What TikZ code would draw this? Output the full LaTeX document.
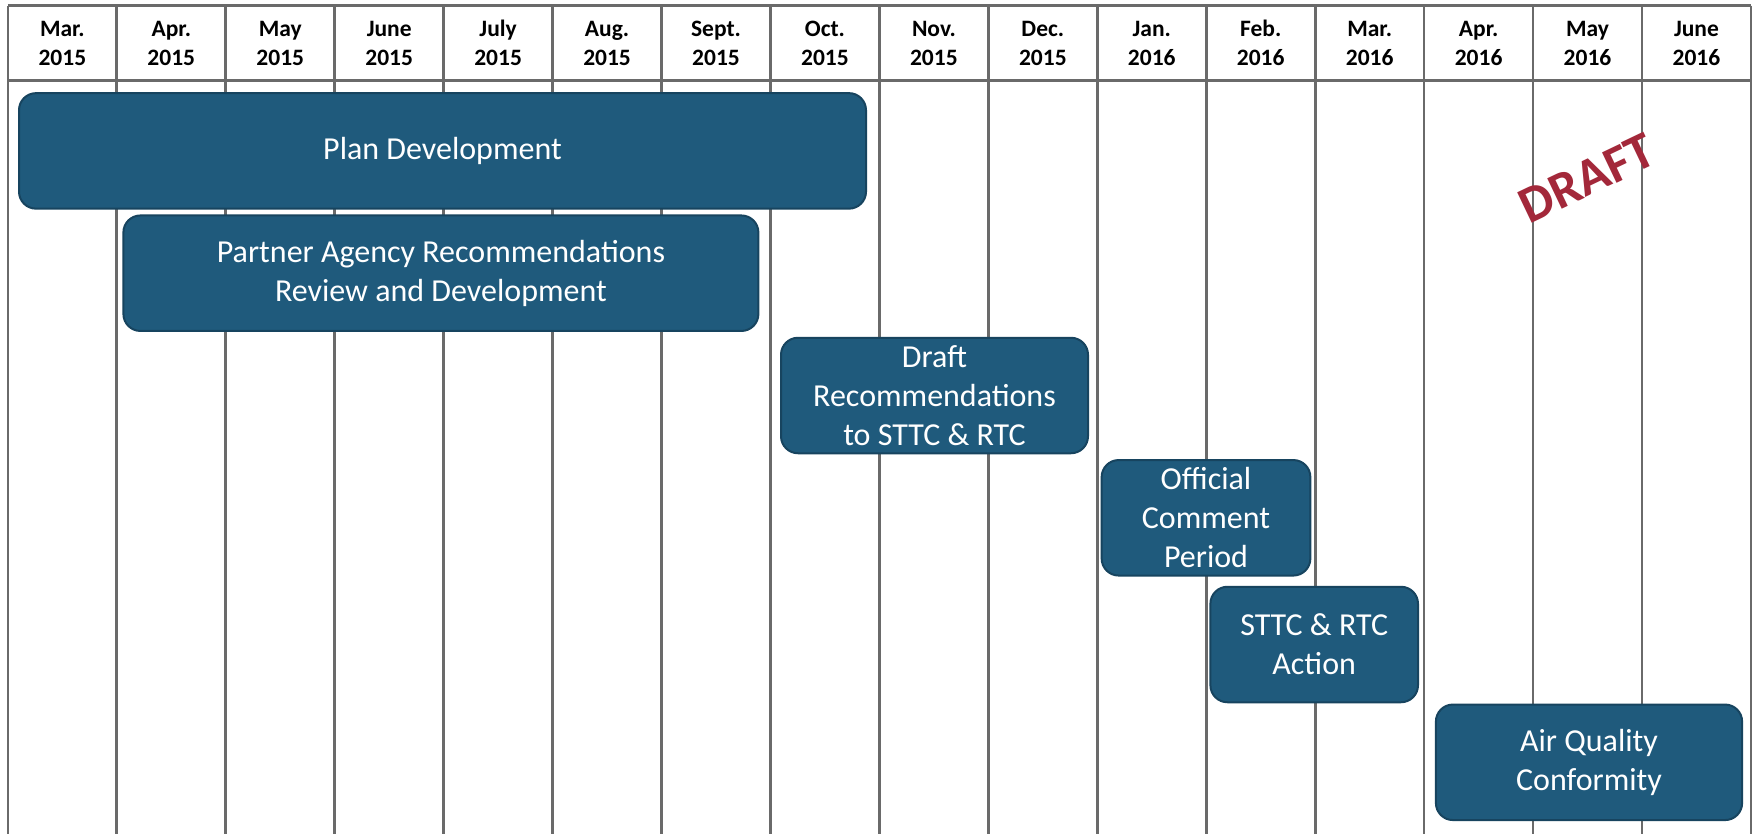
\documentclass[tikz,border=0pt]{standalone}
\usepackage{fontspec}
\setmainfont{Carlito}
\definecolor{gridgray}{HTML}{6A6A6A}
\definecolor{barfill}{HTML}{1F5A7C}
\definecolor{baredge}{HTML}{17445F}
\definecolor{draftred}{HTML}{A3283A}
\begin{document}
\begin{tikzpicture}[x=1pt,y=-1pt,
  gridline/.style={draw=gridgray,line width=2.7pt},
  monthlabel/.style={font=\fontsize{23.5}{28.5}\selectfont\bfseries,align=center,inner sep=0pt},
  phase/.style={draw=baredge,fill=barfill,line width=2pt,rounded corners=17pt,
    text=white,align=center,inner sep=0pt,minimum height=115.5pt,
    font=\fontsize{32}{39}\selectfont},
  stamp/.style={text=draftred,font=\fontsize{52}{60}\selectfont\bfseries,inner sep=0pt}]
\useasboundingbox (0,0) rectangle (1759,833);
\fill[white] (0,0) rectangle (1759,833);

% month grid
\def\gx{7.9}
\def\cw{108.94}
\foreach \i in {0,...,16}{
  \draw[gridline] ({\gx+\i*\cw},5.6) -- ({\gx+\i*\cw},834);
}
\draw[gridline] (\gx,5.6) -- ({\gx+16*\cw},5.6);
\draw[gridline] (\gx,80.8) -- ({\gx+16*\cw},80.8);

% month headings (struts keep every heading on the same baselines)
\foreach \m/\yr [count=\i from 0] in {Mar./2015,Apr./2015,May/2015,June/2015,July/2015,Aug./2015,Sept./2015,Oct./2015,Nov./2015,Dec./2015,Jan./2016,Feb./2016,Mar./2016,Apr./2016,May/2016,June/2016}{
  \node[monthlabel] (h\i) at ({\gx+(\i+0.5)*\cw},45.5) {\strut\m\\\strut\yr};
}

% phases
\node[phase,minimum width=847pt]   (plan)     at (442.5,150.9) {Plan Development};
\node[phase,minimum width=635pt]   (partner)  at (440.9,273.2) {Partner Agency Recommendations\\Review and Development};
\node[phase,minimum width=307pt]   (draftrec) at (934.5,395.5) {Draft\\Recommendations\\to STTC \& RTC};
\node[phase,minimum width=208.7pt] (comment)  at (1206,517.8)  {Official\\Comment\\Period};
\node[phase,minimum width=207.6pt] (action)   at (1314.2,644.5) {STTC \& RTC\\Action};
\node[phase,minimum width=306.2pt] (aq)       at (1589,762.3)  {Air Quality\\Conformity};

% watermark
\node[stamp,rotate=25.5] (draft) at (1587,178.5) {DRAFT};
\end{tikzpicture}
\end{document}
